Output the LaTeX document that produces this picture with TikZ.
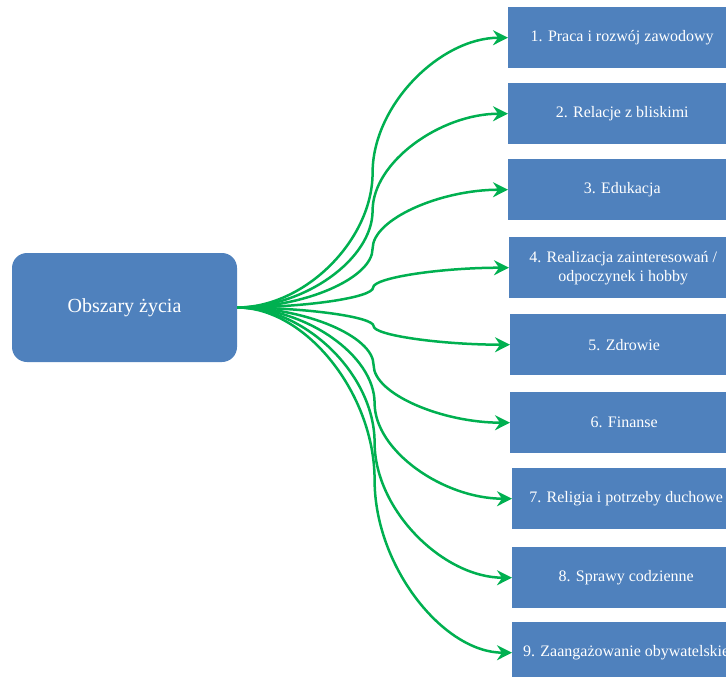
\documentclass[tikz,border=0pt]{standalone}
\usepackage{fontspec}
\setmainfont{Liberation Serif}
\usepackage{tikz}
\usetikzlibrary{arrows.meta,positioning,calc}
\definecolor{boxblue}{HTML}{4F81BD}
\definecolor{linkgreen}{HTML}{00B050}
\tikzset{
  root/.style={
    rectangle,
    rounded corners=15pt,
    fill=boxblue,
    text=white,
    minimum width=225pt,
    minimum height=109pt,
    font=\fontsize{20}{24}\selectfont
  },
  area/.style={
    rectangle,
    fill=boxblue,
    text=white,
    minimum width=228pt,
    minimum height=61pt,
    inner sep=0pt,
    align=center,
    font=\fontsize{16}{19}\selectfont
  },
  link/.style={->, draw=linkgreen, line width=2.5pt},
}

\begin{document}
\begin{tikzpicture}[x=1pt,y=-1pt,>={Stealth[length=15pt,width=15pt,inset=5pt]}]

\useasboundingbox (0,0) rectangle (726,677);
\clip (0,0) rectangle (726,677);

\node[root] (ZYCIE) at (124.5,307.5) {Obszary życia};

% areas on the right, top to bottom
\node[area, anchor=north west] (OBSZAR1) at (508,7) {1. Praca i rozwój zawodowy};
\node[area, anchor=north west] (OBSZAR2) at (508,83) {2. Relacje z bliskimi};
\node[area, anchor=north west] (OBSZAR3) at (508,159) {3. Edukacja};
\node[area, anchor=north west] (OBSZAR4) at (509,237) {4. Realizacja zainteresowań /\\ odpoczynek i hobby};
\node[area, anchor=north west] (OBSZAR5) at (510,314) {5. Zdrowie};
\node[area, anchor=north west] (OBSZAR6) at (510,392) {6. Finanse};
\node[area, anchor=north west] (OBSZAR7) at (512,468) {7. Religia i potrzeby duchowe};
\node[area, anchor=north west] (OBSZAR8) at (512,547) {8. Sprawy codzienne};
\node[area, anchor=north west] (OBSZAR9) at (512,622) {9. Zaangażowanie obywatelskie};

% s-shaped connectors, vertical tangent half way
\foreach \i in {1,...,9}
  \draw[link] let \p1=(ZYCIE.east), \p2=(OBSZAR\i.west) in
    (ZYCIE.east) .. controls ({(3*\x1+\x2)/4},\y1) and ({(\x1+\x2)/2},{(3*\y1+\y2)/4}) ..
    ({(\x1+\x2)/2},{(\y1+\y2)/2}) .. controls ({(\x1+\x2)/2},{(\y1+3*\y2)/4}) and ({(\x1+3*\x2)/4},\y2) ..
    (OBSZAR\i.west);

\end{tikzpicture}
\end{document}
